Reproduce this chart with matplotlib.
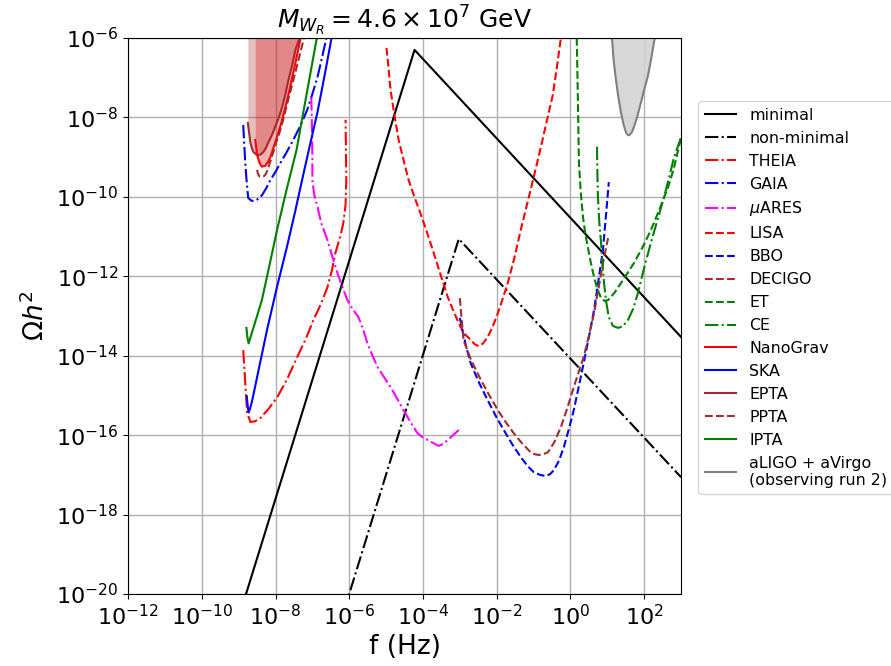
import numpy as np
import matplotlib
matplotlib.use('Agg')
import matplotlib.pyplot as plt
from matplotlib.ticker import FixedLocator, NullLocator, LogFormatterMathtext

# all values are log10(f / Hz) and log10(Omega h^2)

# signal, broken power law
minimal_logf = [-9.5, -4.23, 3.0]
minimal_logomega = [-22.1, -6.30, -13.53]
nonmin_logf = [-6.5, -3.03, 3.0]
nonmin_logomega = [-21.5, -11.06, -17.06]

# sensitivity curves
theia_logf = [-8.875, -8.82, -8.77, -8.68, -8.55, -8.41, -8.18, -7.95, -7.68, -7.41, -7.18, -6.97,
              -6.76, -6.59, -6.47, -6.375, -6.25, -6.16, -6.10, -6.08, -6.09, -6.10]
theia_logomega = [-13.86, -14.70, -15.44, -15.67, -15.65, -15.57, -15.33, -15.04, -14.58, -14.03,
                  -13.58, -13.10, -12.68, -12.27, -11.85, -11.41, -11.02, -10.66, -10.20, -9.58,
                  -8.80, -8.06]

gaia_logf = [-8.875, -8.85, -8.82, -8.78, -8.74, -8.65, -8.55, -8.45, -8.36, -8.25, -8.14, -8.00,
             -7.87, -7.70, -7.52, -7.33, -7.14, -7.00, -6.86, -6.74, -6.62, -6.55]
gaia_logomega = [-8.19, -8.65, -9.15, -9.65, -10.03, -10.10, -10.10, -10.04, -9.95, -9.78, -9.58,
                 -9.37, -9.15, -8.88, -8.57, -8.22, -7.81, -7.41, -6.98, -6.50, -6.0, -5.8]

mares_logf = [-7.03, -7.01, -7.0, -7.0, -6.95, -6.86, -6.76, -6.59, -6.45, -6.32, -6.18, -6.05,
              -5.90, -5.75, -5.62, -5.51, -5.37, -5.23, -5.05, -4.88, -4.70, -4.53, -4.34, -4.15,
              -4.00, -3.875, -3.72, -3.58, -3.45, -3.33, -3.18, -3.03]
mares_logomega = [-7.49, -8.32, -9.07, -9.58, -9.95, -10.26, -10.66, -11.09, -11.53, -11.92, -12.28,
                  -12.60, -12.84, -13.03, -13.35, -13.68, -14.00, -14.29, -14.55, -14.79, -15.08,
                  -15.37, -15.67, -15.95, -16.06, -16.12, -16.20, -16.27, -16.22, -16.12, -16.00,
                  -15.87]

lisa_logf = [-4.99, -4.93, -4.88, -4.77, -4.66, -4.52, -4.39, -4.23, -4.07, -3.89, -3.71, -3.52,
             -3.33, -3.15, -2.98, -2.85, -2.71, -2.60, -2.49, -2.37, -2.245, -2.11, -1.97, -1.84,
             -1.70, -1.52, -1.35, -1.08, -0.80, -0.64, -0.48, -0.37, -0.26]
lisa_logomega = [-6.25, -6.80, -7.31, -7.97, -8.57, -9.10, -9.58, -10.01, -10.41, -10.90, -11.41,
                 -11.97, -12.52, -12.93, -13.28, -13.47, -13.60, -13.71, -13.76, -13.69, -13.53,
                 -13.27, -12.93, -12.57, -12.17, -11.53, -10.84, -9.82, -8.74, -8.08, -7.44, -6.75,
                 -6.0]

bbo_logf = [-3.0, -2.92, -2.84, -2.71, -2.48, -2.245, -2.03, -1.81, -1.58, -1.35, -1.17, -1.0,
            -0.83, -0.67, -0.55, -0.45, -0.31, -0.18, -0.05, 0.09, 0.22, 0.36, 0.50, 0.64, 0.76,
            0.88, 0.96, 1.04]
bbo_logomega = [-13.05, -13.40, -13.73, -14.18, -14.68, -15.12, -15.51, -15.87, -16.23, -16.55,
                -16.77, -16.93, -17.00, -17.03, -16.98, -16.88, -16.64, -16.30, -15.87, -15.37,
                -14.80, -14.18, -13.53, -12.85, -12.10, -11.34, -10.50, -9.63]

decigo_logf = [-3.0, -2.95, -2.90, -2.70, -2.43, -2.20, -1.97, -1.75, -1.54, -1.31, -1.08, -0.97,
               -0.86, -0.74, -0.61, -0.44, -0.26, -0.09, 0.09, 0.22, 0.36, 0.50, 0.64, 0.76, 0.88,
               0.95, 1.02]
decigo_logomega = [-12.55, -13.10, -13.61, -14.10, -14.61, -15.00, -15.37, -15.68, -15.95, -16.21,
                   -16.43, -16.48, -16.50, -16.48, -16.43, -16.18, -15.80, -15.33, -14.79, -14.42,
                   -14.03, -13.50, -12.93, -12.31, -11.67, -11.35, -11.04]

et_logf = [0.17, 0.185, 0.20, 0.215, 0.23, 0.28, 0.34, 0.40, 0.47, 0.55, 0.64, 0.73, 0.83, 0.92,
           1.02, 1.19, 1.37, 1.54, 1.72, 1.95, 2.18, 2.42, 2.65, 2.80, 2.92, 3.1]
et_logomega = [-6.0, -6.75, -7.49, -8.32, -9.15, -9.90, -10.51, -10.92, -11.26, -11.65, -12.02,
               -12.32, -12.55, -12.62, -12.60, -12.42, -12.17, -11.93, -11.67, -11.28, -10.84,
               -10.30, -9.75, -9.30, -8.82, -8.14]

ce_logf = [0.72, 0.73, 0.745, 0.78, 0.83, 0.87, 0.91, 0.97, 1.04, 1.15, 1.29, 1.42, 1.56, 1.70,
           1.83, 2.00, 2.18, 2.36, 2.54, 2.68, 2.81, 3.1]
ce_logomega = [-8.74, -9.40, -10.0, -10.62, -11.16, -11.70, -12.17, -12.65, -13.03, -13.25, -13.30,
               -13.26, -13.10, -12.82, -12.42, -11.78, -11.16, -10.58, -10.0, -9.50, -9.0, -8.24]

nanograv_logf = [-8.55, -8.52, -8.50, -8.46, -8.43, -8.37, -8.28, -8.20, -8.14, -8.01, -7.91,
                 -7.82, -7.73, -7.64, -7.55, -7.46, -7.33, -7.28]
nanograv_logomega = [-8.57, -8.78, -8.95, -9.07, -9.15, -9.24, -9.22, -9.12, -9.00, -8.64, -8.35,
                     -8.06, -7.73, -7.39, -7.01, -6.63, -6.05, -5.85]

ska_logf = [-8.78, -8.75, -8.73, -8.69, -8.63, -8.45, -8.23, -7.96, -7.69, -7.48, -7.28, -7.07,
            -6.86, -6.67, -6.48, -6.44]
ska_logomega = [-15.02, -15.30, -15.43, -15.33, -15.12, -14.32, -13.35, -12.27, -11.26, -10.42,
                -9.58, -8.71, -7.86, -6.95, -6.0, -5.85]

epta_logf = [-8.75, -8.71, -8.68, -8.64, -8.60, -8.53, -8.47, -8.40, -8.33, -8.26, -8.20, -8.10,
             -8.01, -7.91, -7.82, -7.73, -7.65, -7.55, -7.46, -7.35, -7.30]
epta_logomega = [-8.14, -8.43, -8.64, -8.78, -8.87, -8.93, -8.95, -8.93, -8.87, -8.77, -8.64,
                 -8.45, -8.24, -8.00, -7.74, -7.41, -7.06, -6.69, -6.30, -6.0, -5.85]

ppta_logf = [-8.50, -8.48, -8.46, -8.43, -8.39, -8.33, -8.28, -8.23, -8.19, -8.06, -7.97, -7.87,
             -7.77, -7.68, -7.57, -7.46, -7.35, -7.24, -7.2]
ppta_logomega = [-9.32, -9.40, -9.45, -9.49, -9.50, -9.49, -9.45, -9.36, -9.25, -8.87, -8.60,
                 -8.32, -7.98, -7.64, -7.25, -6.86, -6.45, -6.05, -5.9]

ipta_logf = [-8.79, -8.76, -8.73, -8.65, -8.55, -8.37, -8.17, -7.96, -7.70, -7.43, -7.16, -6.89,
             -6.8]
ipta_logomega = [-13.30, -13.55, -13.69, -13.45, -13.15, -12.60, -11.75, -10.84, -9.82, -8.82,
                 -7.43, -6.05, -5.8]

ligo_logf = [1.10, 1.125, 1.17, 1.23, 1.30, 1.37, 1.44, 1.505, 1.55, 1.595, 1.66, 1.73, 1.82,
             1.91, 2.00, 2.10, 2.19, 2.27, 2.32]
ligo_logomega = [-5.8, -6.0, -6.55, -7.03, -7.50, -7.88, -8.18, -8.38, -8.44, -8.45, -8.38, -8.22,
                 -7.95, -7.63, -7.30, -6.96, -6.52, -6.08, -5.9]


def p(a):
    return 10.0**np.asarray(a)


fig = plt.figure(figsize=(8.91, 6.66), dpi=100)
ax = fig.add_axes([0.1437, 0.1081, 0.6207, 0.8349])

ax.plot(p(minimal_logf), p(minimal_logomega), 'k-', label='minimal')
ax.plot(p(nonmin_logf), p(nonmin_logomega), 'k-.', label='non-minimal')

ax.plot(p(theia_logf), p(theia_logomega), '-.', color='red', label='THEIA')
ax.plot(p(gaia_logf), p(gaia_logomega), '-.', color='blue', label='GAIA')
ax.plot(p(mares_logf), p(mares_logomega), '-.', color='magenta', label=r'$\mu$ARES')
ax.plot(p(lisa_logf), p(lisa_logomega), '--', color='red', label='LISA')
ax.plot(p(bbo_logf), p(bbo_logomega), '--', color='blue', label='BBO')
ax.plot(p(decigo_logf), p(decigo_logomega), '--', color='brown', label='DECIGO')
ax.plot(p(et_logf), p(et_logomega), '--', color='green', label='ET')
ax.plot(p(ce_logf), p(ce_logomega), '-.', color='green', label='CE')

ax.plot(p(nanograv_logf), p(nanograv_logomega), '-', color='red', label='NanoGrav')
ax.fill_between(p(nanograv_logf), p(nanograv_logomega), 1e-5, color='red', alpha=0.3, lw=0)
ax.plot(p(ska_logf), p(ska_logomega), '-', color='blue', label='SKA')
ax.plot(p(epta_logf), p(epta_logomega), '-', color='brown', label='EPTA')
ax.fill_between(p(epta_logf), p(epta_logomega), 1e-5, color='brown', alpha=0.3, lw=0)
ax.plot(p(ppta_logf), p(ppta_logomega), '--', color='brown', label='PPTA')
ax.plot(p(ipta_logf), p(ipta_logomega), '-', color='green', label='IPTA')

ax.plot(p(ligo_logf), p(ligo_logomega), '-', color='gray',
        label='aLIGO + aVirgo\n(observing run 2)')
ax.fill_between(p(ligo_logf), p(ligo_logomega), 1e-5, color='lightgray', alpha=0.9, lw=0)

ax.set_xscale('log')
ax.set_yscale('log')
ax.set_xlim(1e-12, 1e3)
ax.set_ylim(1e-20, 1e-6)
ax.xaxis.set_major_locator(FixedLocator(10.0**np.arange(-12, 3, 2)))
ax.yaxis.set_major_locator(FixedLocator(10.0**np.arange(-20, -5, 2)))
ax.xaxis.set_major_formatter(LogFormatterMathtext())
ax.yaxis.set_major_formatter(LogFormatterMathtext())
ax.xaxis.set_minor_locator(NullLocator())
ax.yaxis.set_minor_locator(NullLocator())
ax.tick_params(labelsize=16)
ax.grid(True, color='#b0b0b0', lw=1)
ax.set_axisbelow(True)

ax.set_xlabel('f (Hz)', fontsize=19)
ax.set_ylabel(r'$\Omega h^2$', fontsize=19)
ax.set_title(r'$M_{W_R} = 4.6 \times 10^{7}$ GeV', fontsize=18)

ax.legend(loc='upper left', bbox_to_anchor=(1.017, 0.9), fontsize=11.4)

fig.savefig('out.png', dpi=100)
